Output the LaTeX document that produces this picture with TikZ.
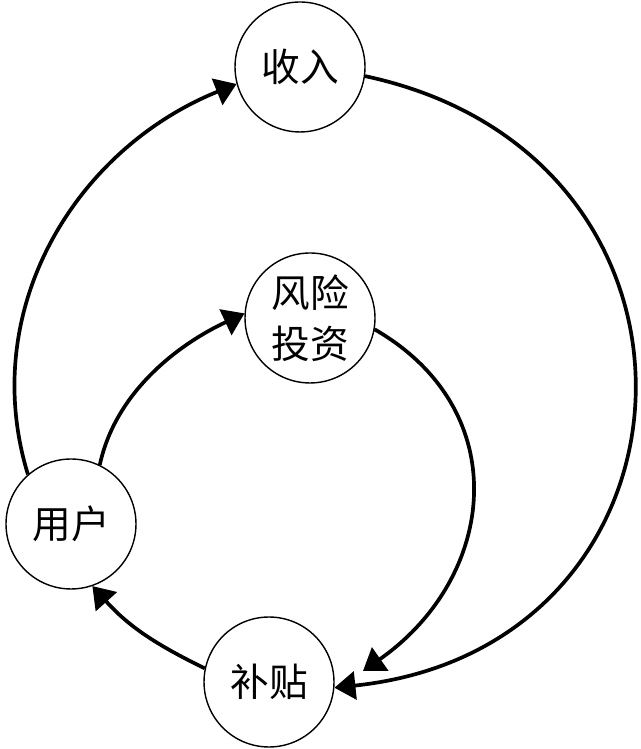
\documentclass[tikz,border=0pt]{standalone}
\usepackage{fontspec}
\newfontfamily\cjk{Noto Sans CJK SC}
\usetikzlibrary{arrows.meta}
\begin{document}
\begin{tikzpicture}[x=0.02cm,y=0.02cm,
  ring/.style={circle,draw,line width=0.8pt,minimum size=2.6cm,inner sep=0pt,align=center,
    font=\cjk\fontsize{22}{29}\selectfont},
  flow/.style={line width=2.1pt,-{Triangle[length=0.42cm,width=0.56cm]}}]
\useasboundingbox (0,0) rectangle (640,749);
\node[ring] (sr) at (300,682) {收入};
\node[ring] (vc) at (310,431) {风险\\投资};
\node[ring] (yh) at (71,225) {用户};
\node[ring] (bt) at (269,67) {补贴};
\coordinate (tip1) at (363,78);
\draw[flow] (sr.-8) to[out=-12,in=6,looseness=1.6] (bt.-5);
\draw[flow] (vc.-10) to[out=-30,in=35,looseness=1.22] (tip1);
\draw[flow] (yh.131) to[out=107,in=202,looseness=1] (sr.195);
\draw[flow] (yh.64) to[out=78,in=205,looseness=0.9] (vc.176);
\draw[flow] (bt.168) to[out=154,in=-48,looseness=1] (yh.-71);
\end{tikzpicture}
\end{document}
